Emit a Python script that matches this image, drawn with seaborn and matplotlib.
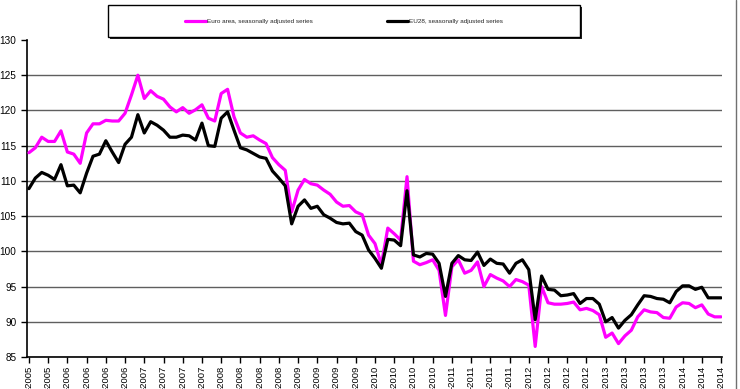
import numpy as np
import pandas as pd
import matplotlib
matplotlib.use("Agg")
import matplotlib.pyplot as plt
from matplotlib.lines import Line2D
from matplotlib.patches import Rectangle
import seaborn as sns

# ---- data (monthly, Jul-2005 .. Jul-2014) ----
euro_area = [
    114.0, 114.7, 116.2, 115.6, 115.6, 117.1, 114.1, 113.8, 112.5, 116.8,
    118.1, 118.1, 118.6, 118.5, 118.5, 119.6, 122.2, 125.0, 121.7, 122.8,
    122.0, 121.6, 120.5, 119.8, 120.4, 119.6, 120.1, 120.8, 118.9, 118.5,
    122.4, 123.0, 119.1, 116.8, 116.2, 116.4, 115.8, 115.3, 113.3, 112.3,
    111.5, 105.6, 108.7, 110.2, 109.6, 109.4, 108.7, 108.1, 107.0, 106.4,
    106.5, 105.6, 105.2, 102.3, 101.1, 98.1, 103.3, 102.5, 101.6, 110.6,
    98.6, 98.1, 98.4, 98.8, 97.3, 90.9, 97.8, 98.8, 96.9, 97.3,
    98.5, 95.0, 96.7, 96.2, 95.8, 95.0, 96.0, 95.7, 95.2, 86.5,
    95.0, 92.7, 92.5, 92.5, 92.6, 92.8, 91.7, 91.9, 91.6, 91.0,
    87.8, 88.4, 86.9, 88.0, 88.8, 90.7, 91.7, 91.4, 91.3, 90.6,
    90.5, 92.1, 92.7, 92.6, 92.0, 92.4, 91.1, 90.7, 90.7,
]
eu28 = [
    108.9, 110.4, 111.2, 110.8, 110.2, 112.3, 109.3, 109.4, 108.3, 111.1,
    113.5, 113.8, 115.7, 114.1, 112.6, 115.2, 116.2, 119.4, 116.8, 118.4,
    117.9, 117.2, 116.2, 116.2, 116.5, 116.4, 115.8, 118.2, 115.0, 114.9,
    118.9, 119.8, 117.2, 114.7, 114.4, 113.9, 113.4, 113.2, 111.4, 110.4,
    109.3, 103.9, 106.4, 107.3, 106.1, 106.4, 105.2, 104.7, 104.1, 103.9,
    104.0, 102.8, 102.3, 100.2, 99.0, 97.6, 101.7, 101.6, 100.8, 108.6,
    99.5, 99.2, 99.7, 99.6, 98.3, 93.6, 98.3, 99.4, 98.8, 98.7,
    99.9, 98.0, 98.9, 98.3, 98.2, 96.9, 98.3, 98.8, 97.4, 90.3,
    96.5, 94.6, 94.5, 93.7, 93.8, 94.0, 92.6, 93.3, 93.3, 92.5,
    90.0, 90.6, 89.1, 90.2, 91.0, 92.4, 93.7, 93.6, 93.3, 93.2,
    92.7, 94.3, 95.1, 95.1, 94.6, 94.9, 93.4, 93.4, 93.4,
]
series_names = ["Euro area, seasonally adjusted series",
                "EU28, seasonally adjusted series"]
series_colors = ["#FF00FF", "#000000"]
# visible part of the quarterly tick labels (Jul-2005 ... Jul-2014)
tick_labels = ["-2005"] * 2 + ["-2006"] * 4 + ["-2007"] * 4 + ["-2008"] * 4 \
    + ["-2009"] * 4 + ["-2010"] * 4 + ["-2011"] * 4 + ["-2012"] * 4 \
    + ["-2013"] * 4 + ["-2014"] * 3
tick_every = 3
y_ticks = [85, 90, 95, 100, 105, 110, 115, 120, 125, 130]

# ---- long table ----
pos = np.arange(len(euro_area))
df = pd.concat([
    pd.DataFrame({"pos": pos, "value": euro_area, "series": series_names[0]}),
    pd.DataFrame({"pos": pos, "value": eu28, "series": series_names[1]}),
])

sns.set_theme(style="white")
plt.rcParams["font.family"] = ["Liberation Sans", "DejaVu Sans"]

W, H = 740, 389
fig = plt.figure(figsize=(W / 100, H / 100), dpi=100)
ax = fig.add_axes([27 / W, 1 - 357 / H, (722 - 27) / W, (357 - 40) / H])

sns.lineplot(data=df, x="pos", y="value", hue="series",
             hue_order=series_names, palette=series_colors,
             linewidth=2.3, ax=ax, legend=False, zorder=3)

ax.set_xlim(-0.3, 108.15)
ax.set_ylim(85, 130)
ax.set_yticks(y_ticks)
ax.set_yticklabels([str(v) for v in y_ticks], fontsize=7.2, color="black")
tick_pos = pos[::tick_every]
ax.set_xticks(tick_pos)
ax.set_xticklabels(tick_labels, rotation=90,
                   fontsize=6.8, color="black", va="top", ha="center")
ax.set_xlabel("")
ax.set_ylabel("")

ax.tick_params(axis="both", direction="out", length=4, width=1,
               color="black", bottom=True, left=True)
ax.tick_params(axis="x", pad=2)
ax.tick_params(axis="y", pad=3.5)

for s in ["top", "right"]:
    ax.spines[s].set_visible(False)
for s in ["left", "bottom"]:
    ax.spines[s].set_visible(True)
    ax.spines[s].set_color("black")
    ax.spines[s].set_linewidth(1.2)

ax.yaxis.grid(True, color="#5f5f5f", linewidth=1.0)
ax.xaxis.grid(False)
ax.set_axisbelow(True)
gl = ax.get_ygridlines()
gl[-1].set_visible(False)

# ---- legend box at top ----
bx0, bx1, by0, by1 = 108, 580, 5, 37
fig.add_artist(Rectangle((bx0 / W + 1.5 / W, 1 - (by1 + 2) / H),
                         (bx1 - bx0) / W, (by1 - by0) / H,
                         transform=fig.transFigure, facecolor="#202020",
                         edgecolor="none", zorder=1))
fig.add_artist(Rectangle((bx0 / W, 1 - by1 / H), (bx1 - bx0) / W,
                         (by1 - by0) / H, transform=fig.transFigure,
                         facecolor="white", edgecolor="black",
                         linewidth=1.0, zorder=2))
handles = [Line2D([0], [0], color=c, lw=2.3) for c in series_colors]
leg = fig.legend(handles, series_names, ncol=2, loc="center",
                 bbox_to_anchor=((bx0 + bx1) / 2 / W, 1 - (by0 + by1) / 2 / H),
                 frameon=False, fontsize=4.6, handlelength=3.4,
                 handletextpad=0.15, columnspacing=11.5)
leg.set_zorder(5)

# chart border on the right
fig.add_artist(Line2D([736 / W, 736 / W], [0, 1], color="#707070",
                      linewidth=1.0, transform=fig.transFigure))

fig.savefig("out.png", dpi=100, facecolor="white")
